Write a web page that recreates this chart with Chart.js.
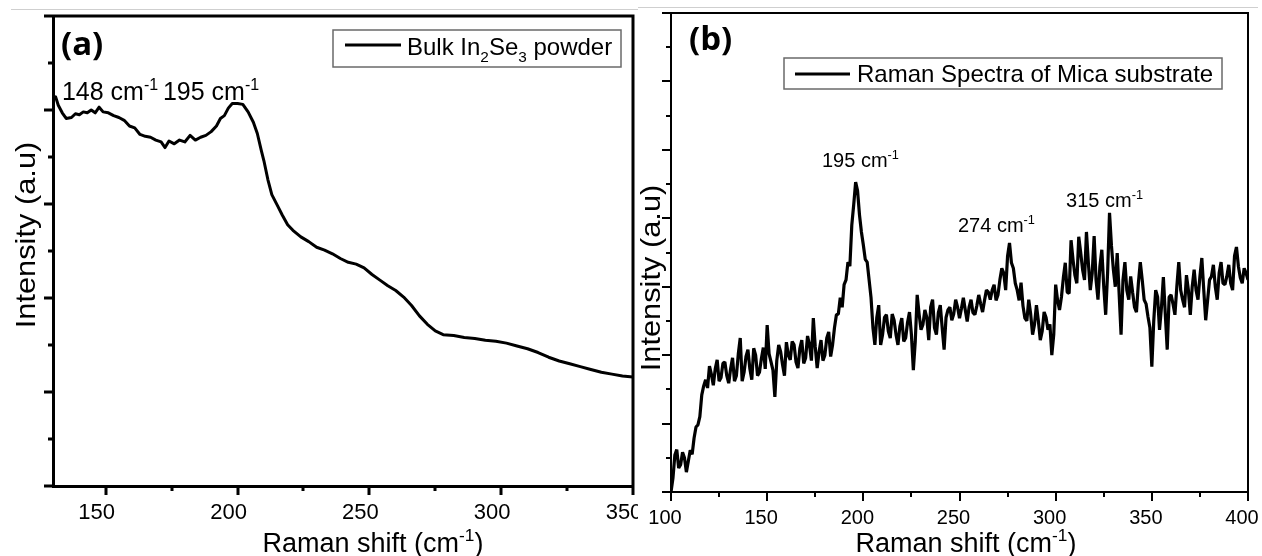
<!DOCTYPE html>
<html>
<head>
<meta charset="utf-8">
<script src="https://cdn.jsdelivr.net/npm/chart.js@4.4.1/dist/chart.umd.min.js"></script>
<style>
html, body { margin: 0; padding: 0; background: #fff; width: 1262px; height: 556px; overflow: hidden; }
#wrap-a { position: absolute; left: 0; top: 0; width: 640px; height: 556px; }
#wrap-b { position: absolute; left: 638px; top: 0; width: 624px; height: 556px; background: #fff; }
.rule { position: absolute; height: 1px; background: #cfcfcf; }
</style>
</head>
<body>
<div id="wrap-a"><canvas id="chart-a" width="640" height="556"></canvas></div>
<div id="wrap-b"><canvas id="chart-b" width="624" height="556"></canvas></div>
<div class="rule" style="left:11px;top:9px;width:627px"></div>
<div class="rule" style="left:638px;top:7px;width:620px"></div>
<script>
var FAM = "'Liberation Sans', Arial, sans-serif";

// panel (a) - bulk In2Se3 powder
var shiftA = [130,131,132,133.5,135,137,138.5,140,141.5,143,
  144.5,146,147.5,149,151,153,155,157,159,161,
  163,165,167,169,171,172.5,174,176,178,180,
  182,184,186,188,190,192,193.5,195,196.5,198,
  200,202,204,206,207.5,209,210,211.5,213,215,
  217,219,221,224,227,230,233,236,239,242,
  245,248,251,254,257,260,263,266,269,272,
  275,278,282,286,290,294,298,302,306,310,
  314,318,322,326,330,334,338,342,346,350];
var intensityA = [4.11,4.14,4.05,3.97,3.91,3.92,3.96,3.95,3.98,3.97,
  4.00,3.97,4.03,3.98,3.97,3.94,3.92,3.89,3.83,3.81,
  3.74,3.72,3.71,3.68,3.66,3.60,3.67,3.64,3.68,3.66,
  3.73,3.68,3.71,3.73,3.77,3.83,3.91,3.94,4.02,4.07,
  4.07,4.06,3.98,3.87,3.75,3.57,3.46,3.26,3.10,2.99,
  2.88,2.78,2.72,2.65,2.60,2.54,2.51,2.47,2.42,2.38,
  2.36,2.32,2.25,2.19,2.13,2.08,2.01,1.92,1.81,1.72,
  1.65,1.61,1.60,1.58,1.57,1.55,1.54,1.52,1.49,1.46,
  1.42,1.37,1.33,1.30,1.27,1.24,1.21,1.19,1.17,1.16];
var xMajorA = [150, 200, 250, 300, 350];
var xMinorA = [175, 225, 275, 325];
var yMajorA = [0, 1, 2, 3, 4, 5];
var yMinorA = [0.5, 1.5, 2.5, 3.5, 4.5];

// panel (b) - mica substrate
var shiftB = [100,101,102,103,104,105,106,107,108,109,
  110,111,112,113,114,115,116,117,118,119,
  120,121,122,123,124,125,126,127,128,129,
  130,131,132,133,134,135,136,137,138,139,
  140,141,142,143,144,145,146,147,148,149,
  150,151,152,153,154,155,156,157,158,159,
  160,161,162,163,164,165,166,167,168,169,
  170,171,172,173,174,175,176,177,178,179,
  180,181,182,183,184,185,186,187,188,189,
  190,191,192,193,194,195,196,197,198,199,
  200,201,202,203,204,205,206,207,208,209,
  210,211,212,213,214,215,216,217,218,219,
  220,221,222,223,224,225,226,227,228,229,
  230,231,232,233,234,235,236,237,238,239,
  240,241,242,243,244,245,246,247,248,249,
  250,251,252,253,254,255,256,257,258,259,
  260,261,262,263,264,265,266,267,268,269,
  270,271,272,273,274,275,276,277,278,279,
  280,281,282,283,284,285,286,287,288,289,
  290,291,292,293,294,295,296,297,298,299,
  300,301,302,303,304,305,306,307,308,309,
  310,311,312,313,314,315,316,317,318,319,
  320,321,322,323,324,325,326,327,328,329,
  330,331,332,333,334,335,336,337,338,339,
  340,341,342,343,344,345,346,347,348,349,
  350,351,352,353,354,355,356,357,358,359,
  360,361,362,363,364,365,366,367,368,369,
  370,371,372,373,374,375,376,377,378,379,
  380,381,382,383,384,385,386,387,388,389,
  390,391,392,393,394,395,396,397,398,399,
  400];
var intensityB = [0,0.20,0.54,0.62,0.35,0.40,0.58,0.50,0.29,0.45,
  0.61,0.55,0.79,0.95,0.98,1.10,1.42,1.55,1.64,1.52,
  1.84,1.72,1.56,1.80,1.93,1.62,1.67,1.88,1.90,1.70,
  1.59,1.80,1.96,1.62,1.70,2.02,2.25,1.62,1.75,1.98,
  2.08,1.80,1.64,2.10,2.00,1.70,1.75,1.95,2.11,1.80,
  2.44,2.02,1.90,1.78,1.39,1.92,2.15,2.05,1.86,1.70,
  2.19,2.00,1.93,2.20,2.15,1.90,1.81,2.10,2.22,1.88,
  1.96,2.28,2.15,1.92,2.54,2.12,1.81,2.05,2.22,1.92,
  2.00,2.25,2.34,1.98,2.15,2.40,2.59,2.60,2.84,2.70,
  3.03,3.10,3.36,3.30,3.90,4.20,4.53,4.40,4.05,3.80,
  3.61,3.40,3.36,3.10,2.84,2.40,2.15,2.55,2.73,2.15,
  2.30,2.55,2.59,2.35,2.25,2.60,2.51,2.30,2.15,2.42,
  2.54,2.20,2.25,2.48,2.63,2.30,1.78,2.20,2.88,2.60,
  2.37,2.45,2.66,2.55,2.22,2.70,2.81,2.40,2.30,2.62,
  2.73,2.40,2.08,2.55,2.66,2.70,2.51,2.60,2.81,2.70,
  2.54,2.68,2.84,2.66,2.49,2.70,2.81,2.62,2.59,2.72,
  2.88,2.75,2.63,2.80,2.95,2.92,2.81,2.95,3.03,2.80,
  2.88,3.10,3.27,3.20,2.95,3.45,3.64,3.35,3.27,3.05,
  2.95,2.80,3.06,2.72,2.54,2.50,2.81,2.60,2.30,2.45,
  2.73,2.50,2.22,2.35,2.63,2.55,2.37,2.45,2.00,2.30,
  3.03,2.80,2.66,2.85,3.13,3.35,2.92,2.90,3.68,3.40,
  3.17,3.05,3.73,3.50,3.25,3.10,3.80,3.35,2.95,3.20,
  3.74,3.10,2.81,3.30,3.54,3.00,2.59,3.20,4.08,3.60,
  3.25,3.00,3.49,2.90,2.30,3.10,3.36,2.95,2.81,3.15,
  2.92,2.70,2.63,3.05,3.36,3.10,2.81,2.75,2.56,2.40,
  1.83,2.50,2.95,2.85,2.37,2.70,3.14,2.60,2.08,2.85,
  2.88,2.75,2.59,3.00,3.36,2.95,2.81,2.70,3.17,2.95,
  2.59,3.00,3.25,2.95,2.81,3.15,3.42,2.95,2.51,2.80,
  3.10,3.15,3.32,3.00,2.81,3.20,3.36,3.05,3.03,3.15,
  3.32,3.05,2.95,3.45,3.58,3.30,3.13,3.05,3.27,3.20,
  3.10];
var xMajorB = [100, 150, 200, 250, 300, 350, 400];
var xMinorB = [125, 175, 225, 275, 325, 375];
var yMajorB = [0, 1, 2, 3, 4, 5, 6, 7];
var yMinorB = [0.5, 1.5, 2.5, 3.5, 4.5, 5.5, 6.5];

// text with sub / superscripts: parts = [[text, 'sup'|'sub'|undefined], ...]
function richWidth(ctx, parts, size) {
    var w = 0;
    parts.forEach(function(p) {
        ctx.font = (p[1] ? size * 0.64 : size) + 'px ' + FAM;
        w += ctx.measureText(p[0]).width;
    });
    return w;
}

function drawRich(ctx, parts, x, y, size, align) {
    var cx = align === 'center' ? x - richWidth(ctx, parts, size) / 2 : x;
    ctx.textAlign = 'left';
    ctx.textBaseline = 'alphabetic';
    parts.forEach(function(p) {
        var s = p[1] ? size * 0.64 : size;
        var dy = p[1] === 'sup' ? -size * 0.40 : (p[1] === 'sub' ? size * 0.30 : 0);
        ctx.font = s + 'px ' + FAM;
        ctx.fillText(p[0], cx, y + dy);
        cx += ctx.measureText(p[0]).width;
    });
}

var decor = {
    id: 'decor',
    afterDraw: function(chart, args, o) {
        var ctx = chart.ctx, a = chart.chartArea;
        var sx = chart.scales.x, sy = chart.scales.y;
        ctx.save();
        ctx.strokeStyle = '#000';
        ctx.fillStyle = '#000';

        // top and right side of the frame
        ctx.lineWidth = o.frame;
        ctx.beginPath();
        ctx.moveTo(a.left, a.top);
        ctx.lineTo(a.right, a.top);
        ctx.lineTo(a.right, a.bottom);
        ctx.stroke();

        // tick marks, pointing out
        ctx.lineWidth = o.tickWidth;
        ctx.beginPath();
        o.xMajor.forEach(function(v) {
            var p = Math.round(sx.getPixelForValue(v));
            ctx.moveTo(p, a.bottom); ctx.lineTo(p, a.bottom + o.major);
        });
        o.xMinor.forEach(function(v) {
            var p = Math.round(sx.getPixelForValue(v));
            ctx.moveTo(p, a.bottom); ctx.lineTo(p, a.bottom + o.minor);
        });
        o.yMajor.forEach(function(v) {
            var p = Math.round(sy.getPixelForValue(v));
            ctx.moveTo(a.left, p); ctx.lineTo(a.left - o.major, p);
        });
        o.yMinor.forEach(function(v) {
            var p = Math.round(sy.getPixelForValue(v));
            ctx.moveTo(a.left, p); ctx.lineTo(a.left - o.minor, p);
        });
        ctx.stroke();

        // axis titles
        drawRich(ctx, o.xTitle, o.xTitleAt[0], o.xTitleAt[1], o.titleSize, 'center');
        ctx.save();
        ctx.translate(o.yTitleAt[0], o.yTitleAt[1]);
        ctx.rotate(-Math.PI / 2);
        ctx.scale(o.yTitleStretch, 1);
        drawRich(ctx, o.yTitle, 0, 0, o.yTitleSize, 'center');
        ctx.restore();

        // panel letter
        ctx.font = 'bold ' + o.letterSize + 'px "Open Sans", Lato, sans-serif';
        ctx.textAlign = 'left';
        ctx.textBaseline = 'alphabetic';
        ctx.fillText(o.letter, o.letterAt[0], o.letterAt[1]);

        // legend box
        var L = o.legend;
        ctx.lineWidth = 1.5;
        ctx.strokeStyle = '#6a6a6a';
        ctx.strokeRect(L.box[0], L.box[1], L.box[2] - L.box[0], L.box[3] - L.box[1]);
        ctx.strokeStyle = '#000';
        ctx.lineWidth = 3;
        ctx.beginPath();
        ctx.moveTo(L.line[0], L.line[2]);
        ctx.lineTo(L.line[1], L.line[2]);
        ctx.stroke();
        drawRich(ctx, L.text, L.textAt[0], L.textAt[1], L.size, 'left');

        // peak labels, placed in data coordinates
        o.peaks.forEach(function(pk) {
            drawRich(ctx, pk.text, sx.getPixelForValue(pk.x), sy.getPixelForValue(pk.y), o.peakSize, 'left');
        });
        ctx.restore();
    }
};

function toPoints(xs, ys) {
    return xs.map(function(x, i) { return { x: x, y: ys[i] }; });
}

function noEdgePadding(s) {
    s.paddingLeft = 0; s.paddingRight = 0; s.paddingTop = 0; s.paddingBottom = 0;
}

function panelOptions(p) {
    return {
        responsive: false,
        animation: false,
        devicePixelRatio: 1,
        layout: { padding: { left: 0, top: p.padTop, right: p.padRight, bottom: 0 } },
        scales: {
            x: {
                type: 'linear', min: p.xMin, max: p.xMax,
                afterBuildTicks: function(s) { s.ticks = p.xLabels.map(function(v) { return { value: v }; }); },
                afterFit: function(s) { s.height = p.xAxisHeight; noEdgePadding(s); },
                grid: { display: false, drawTicks: false },
                border: { display: true, color: '#000', width: p.axisWidth },
                ticks: { color: '#000', padding: p.tickPad, labelOffset: p.labelShift,
                         maxRotation: 0, autoSkip: false,
                         font: { family: FAM, size: p.tickSize } }
            },
            y: {
                min: 0, max: p.yMax,
                afterFit: function(s) { s.width = p.yAxisWidth; noEdgePadding(s); },
                grid: { display: false, drawTicks: false },
                border: { display: true, color: '#000', width: p.axisWidth },
                ticks: { display: false }
            }
        },
        plugins: {
            legend: { display: false },
            tooltip: { enabled: false },
            decor: p.decor
        }
    };
}

new Chart(document.getElementById('chart-a'), {
    type: 'line',
    data: { datasets: [{
        data: toPoints(shiftA, intensityA),
        borderColor: '#000', borderWidth: 3, pointRadius: 0, tension: 0,
        borderJoinStyle: 'round'
    }] },
    options: panelOptions({
        padTop: 16, padRight: 7, xMin: 130, xMax: 350, yMax: 5,
        xLabels: xMajorA, xAxisHeight: 70, yAxisWidth: 53, axisWidth: 3,
        tickPad: 14, tickSize: 22, labelShift: -9,
        decor: {
            frame: 3, tickWidth: 3, major: 9, minor: 5,
            xMajor: xMajorA, xMinor: xMinorA, yMajor: yMajorA, yMinor: yMinorA,
            xTitle: [['Raman shift (cm'], ['-1', 'sup'], [')']], xTitleAt: [373, 552], titleSize: 27,
            yTitle: [['Intensity (a.u)']], yTitleAt: [35, 235], yTitleSize: 28, yTitleStretch: 1.1,
            letter: '(a)', letterAt: [61, 55], letterSize: 33,
            legend: { box: [333, 30, 621, 67], line: [345, 401, 45], textAt: [407, 55], size: 24,
                      text: [['Bulk In'], ['2', 'sub'], ['Se'], ['3', 'sub'], [' powder']] },
            peakSize: 25,
            peaks: [
                { text: [['148 cm'], ['-1', 'sup']], x: 133.4, y: 4.11 },
                { text: [['195 cm'], ['-1', 'sup']], x: 171.7, y: 4.11 }
            ]
        }
    }),
    plugins: [decor]
});

new Chart(document.getElementById('chart-b'), {
    type: 'line',
    data: { datasets: [{
        data: toPoints(shiftB, intensityB),
        borderColor: '#000', borderWidth: 3.2, pointRadius: 0, tension: 0,
        borderJoinStyle: 'bevel'
    }] },
    options: panelOptions({
        padTop: 13, padRight: 14, xMin: 100, xMax: 400, yMax: 7,
        xLabels: xMajorB, xAxisHeight: 64, yAxisWidth: 33, axisWidth: 2,
        tickPad: 14, tickSize: 20, labelShift: -6,
        decor: {
            frame: 2, tickWidth: 2, major: 9, minor: 5,
            xMajor: xMajorB, xMinor: xMinorB, yMajor: yMajorB, yMinor: yMinorB,
            xTitle: [['Raman shift (cm'], ['-1', 'sup'], [')']], xTitleAt: [328, 552], titleSize: 27,
            yTitle: [['Intensity (a.u)']], yTitleAt: [22, 278], yTitleSize: 28, yTitleStretch: 1.1,
            letter: '(b)', letterAt: [51, 50], letterSize: 33,
            legend: { box: [146, 58, 584, 89], line: [157, 212, 74], textAt: [219, 82], size: 24,
                      text: [['Raman Spectra of Mica substrate']] },
            peakSize: 20,
            peaks: [
                { text: [['195 cm'], ['-1', 'sup']], x: 178.5, y: 4.75 },
                { text: [['274 cm'], ['-1', 'sup']], x: 249.2, y: 3.80 },
                { text: [['315 cm'], ['-1', 'sup']], x: 305.4, y: 4.17 }
            ]
        }
    }),
    plugins: [decor]
});
</script>
</body>
</html>
